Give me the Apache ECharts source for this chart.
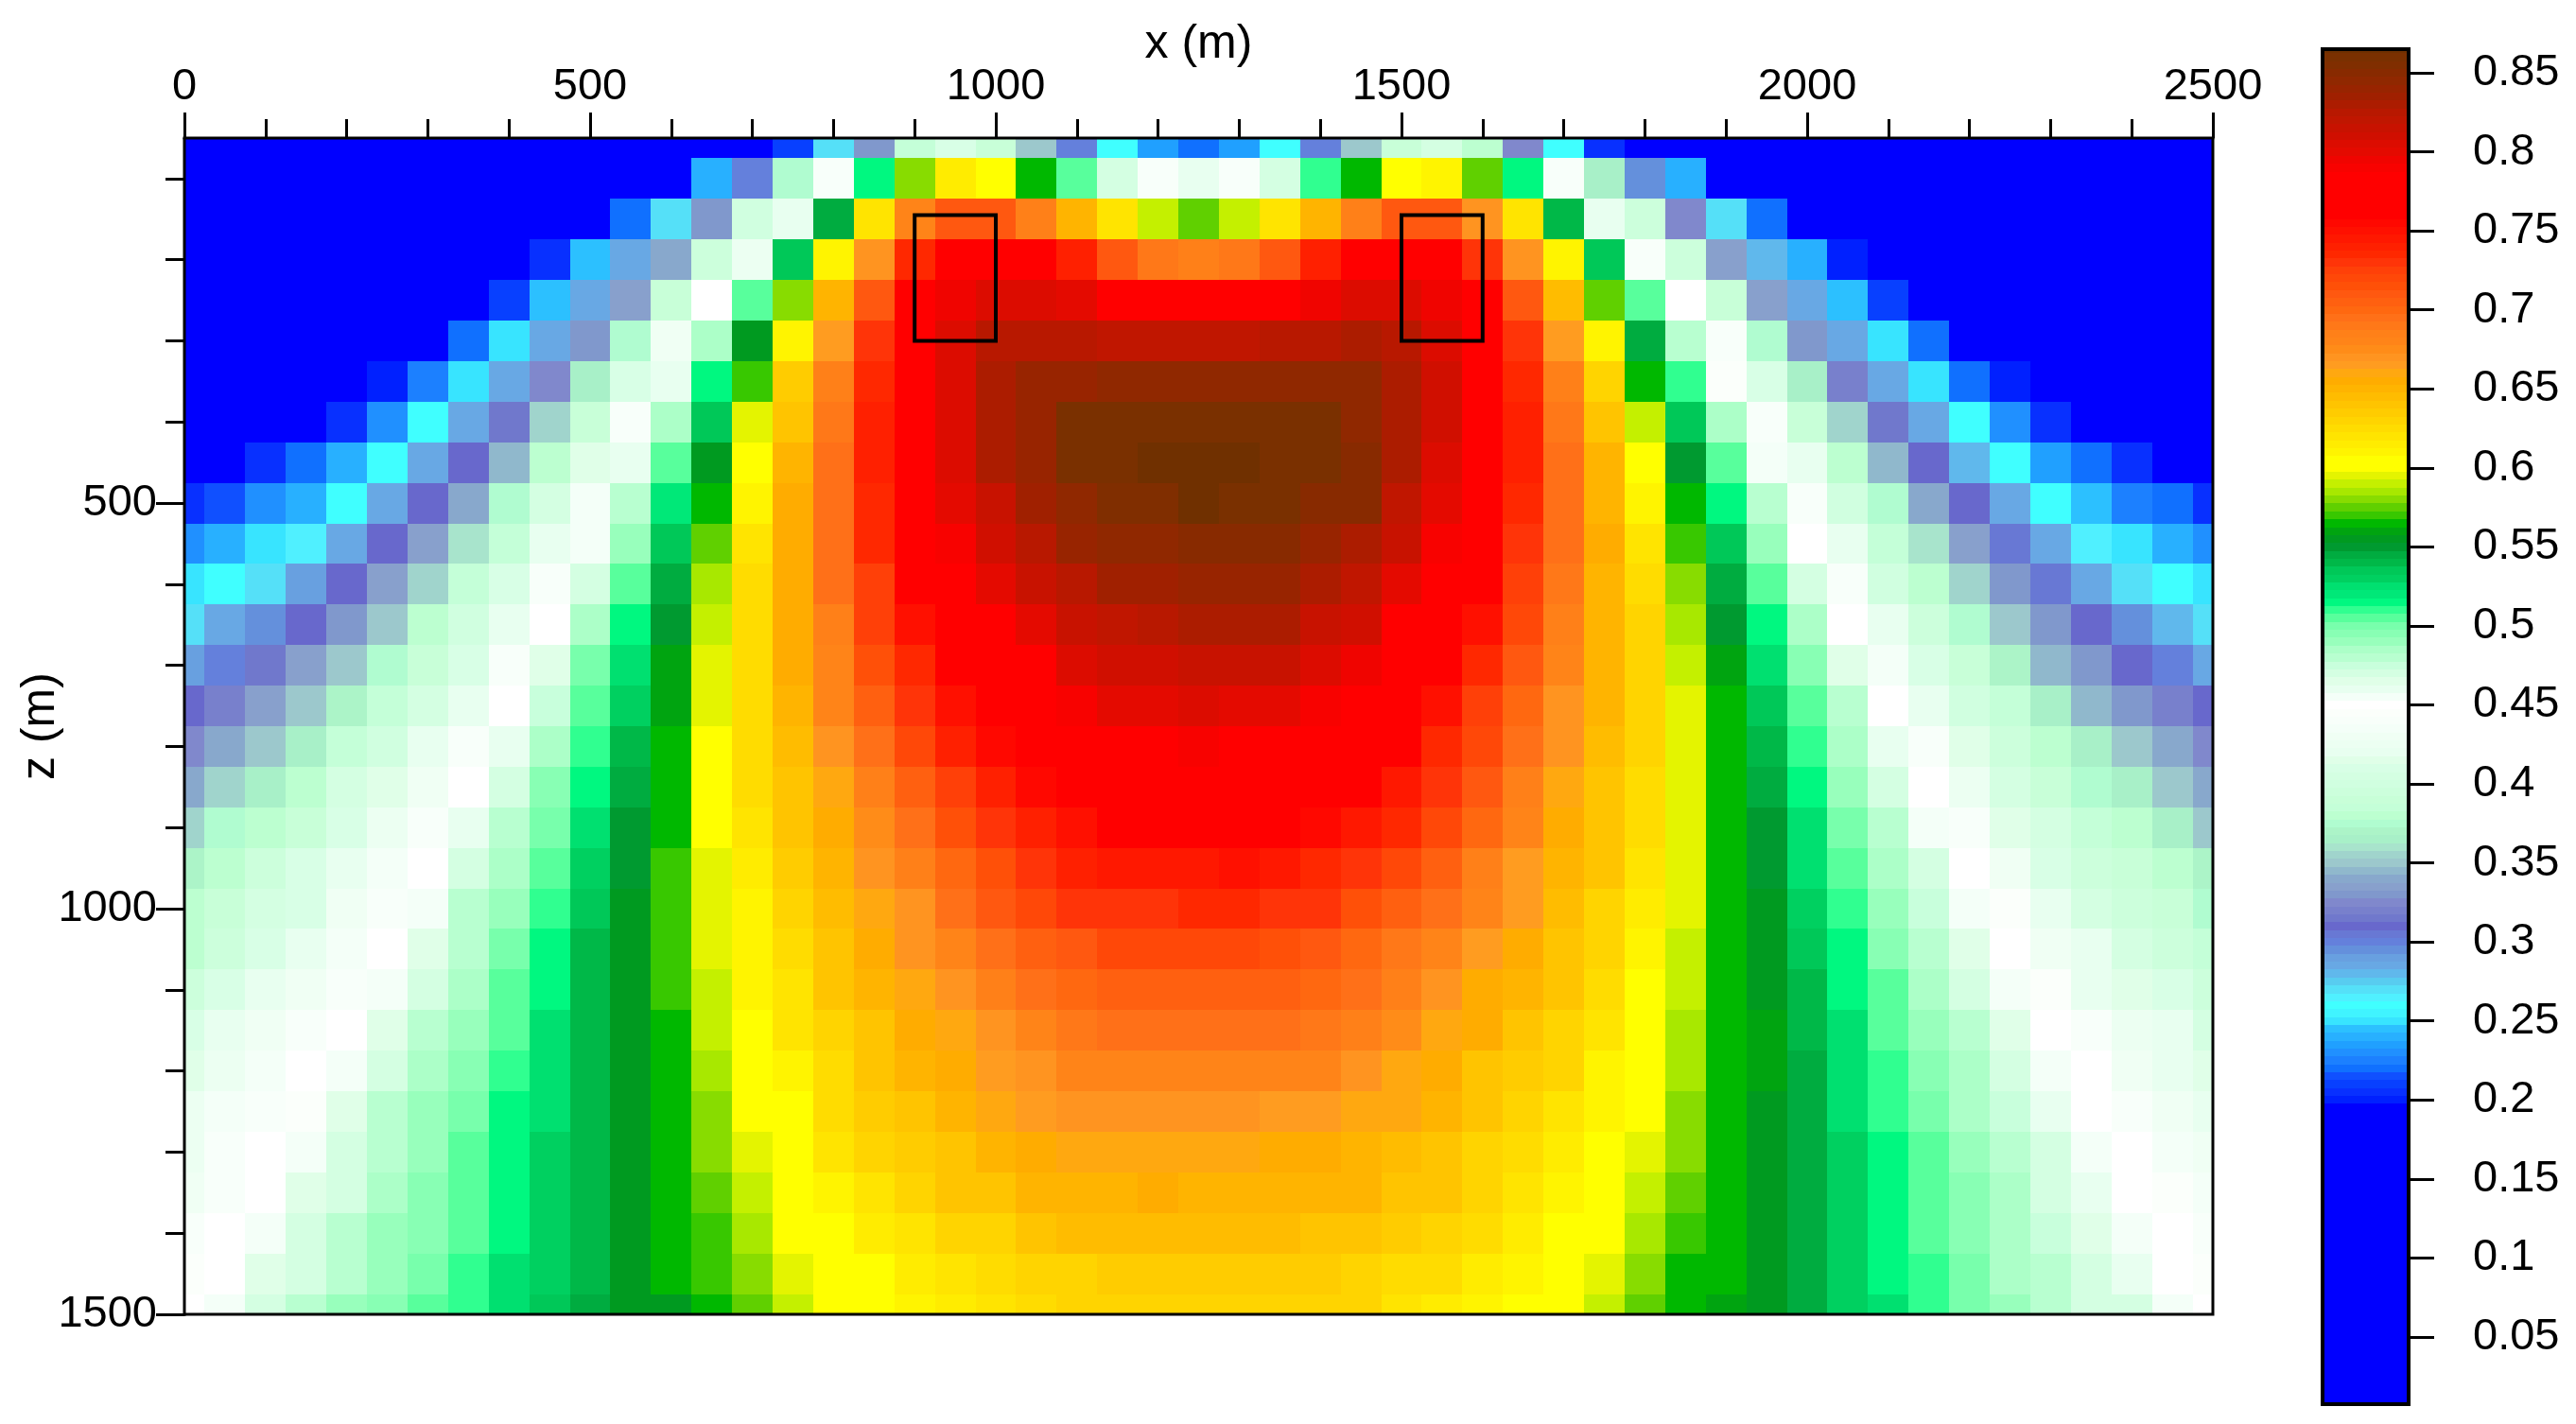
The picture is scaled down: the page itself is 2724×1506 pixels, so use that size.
<!DOCTYPE html>
<html>
<head>
<meta charset="utf-8">
<script src="https://cdn.jsdelivr.net/npm/echarts@6/dist/echarts.min.js"></script>
<style>
html, body { margin: 0; padding: 0; background: #fff; }
#chart { width: 2724px; height: 1506px; }
</style>
</head>
<body>
<div id="chart"></div>
<script>
// node positions of the model (m), one cell per node
var xNodes = [0,50,100,150,200,250,300,350,400,450,500,550,600,650,700,750,800,850,900,950,1000,1050,1100,1150,1200,1250,1300,1350,1400,1450,1500,1550,1600,1650,1700,1750,1800,1850,1900,1950,2000,2050,2100,2150,2200,2250,2300,2350,2400,2450,2500];
var zNodes = [50,100,150,200,250,300,350,400,450,500,550,600,650,700,750,800,850,900,950,1000,1050,1100,1150,1200,1250,1300,1350,1400,1450,1500];
var cellSize = 50;

// values, one row per depth
var rows = [
[.1,.1,.1,.1,.1,.1,.1,.1,.1,.1,.1,.1,.1,.1,.1,.208,.268,.33,.385,.41,.39,.352,.298,.26,.235,.22,.235,.26,.30,.352,.39,.405,.38,.325,.262,.205,.1,.1,.1,.1,.1,.1,.1,.1,.1,.1,.1,.1,.1,.1,.1],
[.1,.1,.1,.1,.1,.1,.1,.1,.1,.1,.1,.1,.1,.24,.298,.375,.44,.515,.58,.615,.605,.565,.505,.468,.44,.42,.44,.468,.512,.567,.603,.61,.575,.513,.44,.365,.295,.24,.1,.1,.1,.1,.1,.1,.1,.1,.1,.1,.1,.1,.1],
[.1,.1,.1,.1,.1,.1,.1,.1,.1,.1,.1,.22,.268,.33,.40,.42,.543,.622,.678,.708,.708,.685,.65,.62,.59,.575,.59,.62,.65,.685,.708,.708,.672,.622,.54,.46,.395,.325,.268,.22,.1,.1,.1,.1,.1,.1,.1,.1,.1,.1,.1],
[.1,.1,.1,.1,.1,.1,.1,.1,.1,.205,.243,.285,.338,.395,.425,.534,.612,.668,.735,.77,.77,.77,.74,.71,.69,.683,.69,.712,.74,.77,.77,.77,.73,.668,.612,.535,.44,.395,.335,.28,.24,.202,.1,.1,.1,.1,.1,.1,.1,.1,.1],
[.1,.1,.1,.1,.1,.1,.1,.1,.208,.247,.286,.335,.39,.45,.507,.58,.648,.708,.76,.795,.807,.805,.80,.785,.78,.78,.78,.78,.795,.805,.805,.795,.77,.708,.645,.575,.505,.45,.39,.335,.287,.247,.208,.1,.1,.1,.1,.1,.1,.1,.1],
[.1,.1,.1,.1,.1,.1,.1,.218,.25,.286,.33,.376,.43,.485,.555,.61,.664,.728,.77,.807,.825,.826,.825,.82,.82,.82,.82,.825,.825,.828,.825,.807,.77,.728,.664,.61,.545,.48,.44,.376,.33,.287,.25,.218,.1,.1,.1,.1,.1,.1,.1],
[.1,.1,.1,.1,.1,.2,.226,.25,.283,.325,.365,.41,.46,.515,.572,.635,.685,.735,.77,.807,.828,.84,.842,.845,.845,.845,.845,.845,.845,.845,.83,.81,.77,.735,.685,.63,.565,.51,.445,.412,.365,.322,.283,.25,.222,.2,.1,.1,.1,.1,.1],
[.1,.1,.1,.1,.206,.23,.258,.283,.315,.355,.39,.44,.485,.537,.595,.642,.69,.74,.77,.807,.828,.842,.86,.86,.86,.86,.86,.86,.86,.845,.83,.81,.77,.74,.69,.642,.59,.537,.485,.44,.39,.355,.315,.283,.258,.23,.206,.1,.1,.1,.1],
[.1,.1,.205,.218,.238,.26,.283,.31,.345,.38,.417,.46,.507,.555,.605,.648,.695,.74,.77,.805,.828,.842,.86,.86,.865,.865,.865,.86,.86,.85,.828,.805,.77,.74,.695,.648,.605,.55,.503,.455,.42,.378,.345,.31,.28,.258,.235,.218,.203,.1,.1],
[.205,.217,.23,.242,.262,.283,.31,.34,.375,.405,.435,.48,.52,.567,.612,.655,.695,.735,.77,.80,.815,.835,.845,.855,.855,.865,.86,.86,.85,.85,.82,.802,.77,.735,.695,.652,.612,.567,.515,.48,.44,.40,.375,.34,.31,.283,.262,.243,.226,.218,.206],
[.23,.24,.25,.265,.287,.31,.335,.36,.385,.42,.435,.492,.534,.575,.62,.655,.695,.735,.775,.79,.81,.825,.84,.845,.845,.85,.85,.85,.84,.83,.815,.79,.77,.732,.695,.655,.622,.572,.534,.492,.45,.418,.385,.36,.335,.305,.283,.265,.25,.24,.228],
[.252,.262,.272,.29,.31,.335,.354,.385,.412,.44,.47,.505,.545,.585,.625,.655,.695,.725,.77,.78,.80,.815,.827,.835,.835,.84,.84,.84,.83,.82,.80,.78,.77,.725,.688,.652,.625,.58,.545,.503,.472,.44,.40,.378,.355,.33,.305,.287,.272,.262,.252],
[.268,.283,.295,.31,.328,.352,.378,.40,.422,.45,.485,.515,.55,.59,.625,.655,.683,.725,.75,.77,.775,.80,.815,.822,.827,.83,.83,.83,.817,.81,.775,.77,.75,.718,.685,.652,.628,.585,.55,.513,.485,.45,.42,.395,.376,.352,.33,.31,.293,.28,.268],
[.29,.30,.315,.337,.35,.375,.39,.412,.44,.465,.498,.524,.558,.595,.625,.655,.68,.715,.735,.76,.77,.785,.805,.81,.81,.815,.815,.815,.805,.795,.775,.765,.735,.71,.68,.652,.628,.59,.558,.527,.495,.465,.435,.412,.39,.368,.345,.33,.31,.30,.287],
[.31,.322,.337,.352,.368,.385,.405,.422,.45,.475,.503,.53,.56,.595,.625,.65,.68,.705,.73,.75,.76,.77,.79,.80,.80,.805,.80,.80,.79,.785,.775,.75,.725,.70,.67,.65,.628,.595,.565,.533,.503,.478,.45,.42,.40,.385,.365,.345,.332,.32,.31],
[.325,.34,.352,.365,.385,.40,.42,.44,.46,.485,.51,.54,.567,.605,.625,.645,.668,.695,.72,.74,.755,.765,.77,.78,.785,.79,.775,.775,.77,.77,.765,.735,.718,.695,.668,.645,.628,.595,.563,.54,.51,.485,.462,.44,.415,.395,.38,.365,.35,.34,.325],
[.342,.354,.365,.378,.405,.415,.43,.45,.472,.495,.515,.545,.565,.605,.625,.64,.66,.685,.705,.725,.74,.755,.76,.77,.77,.775,.77,.77,.765,.76,.745,.728,.708,.685,.66,.642,.625,.595,.565,.545,.517,.492,.472,.45,.425,.405,.39,.376,.365,.352,.34],
[.355,.375,.38,.39,.412,.425,.44,.46,.48,.50,.525,.552,.565,.605,.62,.638,.655,.675,.695,.715,.728,.74,.75,.76,.76,.765,.765,.76,.755,.745,.733,.72,.70,.678,.655,.642,.625,.595,.565,.55,.525,.50,.48,.455,.44,.415,.405,.385,.38,.365,.352],
[.372,.38,.395,.41,.42,.435,.45,.468,.485,.507,.528,.55,.572,.595,.615,.635,.65,.668,.685,.70,.715,.728,.74,.745,.745,.745,.748,.745,.735,.73,.72,.705,.685,.667,.652,.638,.622,.595,.565,.55,.527,.507,.485,.468,.45,.43,.412,.395,.388,.38,.37],
[.378,.39,.405,.412,.43,.44,.455,.478,.492,.51,.535,.555,.572,.595,.61,.632,.645,.66,.672,.695,.708,.72,.728,.732,.732,.733,.733,.73,.728,.715,.705,.695,.678,.664,.645,.632,.615,.595,.567,.555,.53,.51,.492,.477,.457,.445,.422,.405,.395,.388,.376],
[.38,.395,.412,.418,.435,.45,.465,.482,.50,.517,.538,.557,.572,.595,.612,.625,.642,.655,.668,.68,.695,.705,.71,.718,.718,.718,.718,.716,.708,.70,.69,.678,.667,.655,.642,.63,.612,.59,.565,.555,.534,.514,.497,.482,.463,.45,.43,.418,.405,.395,.385],
[.395,.41,.42,.43,.44,.455,.472,.487,.503,.517,.538,.557,.572,.59,.608,.62,.638,.648,.66,.672,.685,.695,.70,.705,.705,.707,.705,.705,.70,.695,.685,.67,.655,.648,.638,.625,.605,.59,.565,.557,.54,.517,.503,.487,.468,.455,.445,.422,.415,.41,.395],
[.41,.42,.43,.44,.45,.465,.48,.492,.507,.523,.54,.557,.565,.59,.605,.618,.632,.642,.655,.662,.672,.68,.688,.695,.695,.695,.695,.695,.688,.685,.673,.662,.655,.642,.632,.622,.605,.585,.565,.558,.54,.525,.507,.492,.48,.465,.45,.44,.425,.418,.405],
[.415,.425,.435,.448,.457,.472,.485,.497,.51,.527,.54,.557,.565,.585,.603,.612,.625,.638,.648,.656,.663,.668,.678,.68,.68,.68,.68,.68,.68,.672,.66,.655,.642,.635,.628,.612,.605,.585,.565,.558,.543,.527,.51,.495,.483,.468,.457,.45,.43,.422,.415],
[.425,.435,.44,.445,.465,.478,.488,.50,.513,.527,.54,.557,.565,.58,.603,.606,.625,.635,.642,.65,.658,.665,.668,.672,.672,.672,.668,.665,.665,.66,.658,.65,.642,.63,.622,.61,.605,.58,.565,.555,.543,.527,.51,.50,.485,.477,.46,.45,.44,.43,.422],
[.425,.44,.45,.457,.468,.48,.492,.503,.513,.53,.54,.557,.565,.58,.595,.605,.622,.628,.635,.642,.652,.656,.658,.66,.662,.662,.66,.655,.655,.652,.645,.642,.632,.625,.617,.605,.595,.58,.567,.555,.543,.53,.513,.503,.49,.48,.468,.455,.45,.437,.428],
[.43,.44,.448,.465,.472,.485,.495,.507,.517,.53,.54,.557,.567,.575,.59,.603,.612,.622,.63,.638,.642,.648,.65,.652,.654,.652,.65,.65,.65,.648,.642,.638,.63,.622,.612,.605,.59,.575,.565,.555,.543,.53,.517,.503,.495,.485,.472,.46,.45,.445,.435],
[.44,.45,.455,.468,.48,.488,.497,.507,.517,.53,.54,.553,.563,.572,.585,.603,.605,.615,.622,.628,.632,.638,.643,.645,.645,.645,.644,.643,.642,.64,.635,.632,.625,.617,.605,.603,.585,.572,.563,.553,.545,.53,.517,.507,.497,.487,.477,.465,.455,.45,.44],
[.445,.45,.465,.472,.482,.488,.50,.51,.523,.53,.54,.553,.563,.572,.58,.595,.605,.607,.615,.618,.625,.63,.632,.635,.635,.635,.635,.635,.635,.632,.625,.625,.617,.608,.605,.595,.58,.565,.563,.553,.545,.53,.517,.51,.50,.487,.478,.468,.458,.45,.447],
[.45,.455,.472,.478,.488,.497,.503,.51,.523,.534,.545,.553,.557,.565,.575,.59,.603,.605,.61,.617,.62,.625,.628,.63,.63,.632,.632,.63,.63,.628,.62,.615,.61,.605,.603,.59,.575,.565,.56,.553,.545,.53,.525,.51,.50,.492,.48,.472,.468,.455,.45]
];

// the two black boxes drawn on the model
var boxX0 = [900, 1500];
var boxX1 = [1000, 1600];
var boxZ0 = [145, 145];
var boxZ1 = [300, 300];

// colour scale, bands of 0.005 from 0.2 up, plain blue below
var barMin = 0.0075;
var barMax = 0.865;
var blueTop = 0.1975;
var bandStep = 0.005;
var bandColors = [
  '#0020ff','#0830ff','#0840ff','#1050ff','#1070ff','#1c80ff','#2090ff','#20a0ff','#28b0ff','#2cc0ff',
  '#38e4ff','#40f4ff','#40ffff','#50f0ff','#55e0f8','#58ccf0','#60b8ec','#68a8e4','#68a0e0','#6490dc',
  '#6480dc','#6878d4','#6868cc','#7078cc','#7880cc','#8088cc','#8098cc','#88a0cc','#88a8cc','#90b8cc',
  '#9cc8cc','#a0d4cc','#a8e4cc','#a8f0c8','#acf4c8','#b0fcd0','#bcffd0','#c4ffd8','#c8ffd8','#ccffdc',
  '#d0ffe0','#d4ffe2','#d8ffe6','#e0ffe8','#e8fff0','#ecfff2','#f0fff4','#f4fff8','#f8fffa','#fbfffb',
  '#ffffff','#f4fff8','#e8fff0','#e0ffe8','#d4ffe2','#c8ffdc','#b8ffd0','#acffc8','#98ffbc','#88ffb4',
  '#78ffac','#58ff9c','#30ff90','#00f880','#00e878','#00e070','#00d060','#00c858','#00b848','#00ac40',
  '#009a30','#009a20','#00a410','#00b800','#38c800','#60d000','#88dc00','#a8e800','#c4f000','#e4f400',
  '#ffff00','#ffff00','#fff400','#ffec00','#ffe400','#ffdc00','#ffd400','#ffcc00','#ffc400','#ffbc00',
  '#ffb400','#ffac00','#ffa810','#ff9c20','#ff9420','#ff8c18','#ff8418','#ff8018','#ff7818','#ff7018',
  '#ff6810','#ff6010','#ff5810','#ff5008','#ff4808','#ff4008','#ff3408','#ff2800','#ff2000','#ff1800',
  '#ff1000','#ff0800','#ff0000','#ff0000','#ff0000','#ff0000','#ff0000','#ff0000','#f80200','#f00400',
  '#e40a00','#dc0c00','#d00f00','#c81200','#c01600','#b81800','#ac1c00','#a02000','#982400','#902800',
  '#882a00','#802e00','#7a3000','#703000'
];

// tick labels
var xMajor = 500;
var xMinorPerMajor = 5;
var zMajorTicks = [500, 1000, 1500];
var zMinorTicks = [100, 200, 300, 400, 600, 700, 800, 900, 1100, 1200, 1300, 1400];
var barTicks = [0.05, 0.1, 0.15, 0.2, 0.25, 0.3, 0.35, 0.4, 0.45, 0.5, 0.55, 0.6, 0.65, 0.7, 0.75, 0.8, 0.85];

var font = '"Liberation Sans", Arial, sans-serif';
var labelSize = 47;

var cells = [];
rows.forEach(function (row, r) {
    row.forEach(function (v, c) {
        cells.push([xNodes[c], zNodes[r], v]);
    });
});

var boxes = boxX0.map(function (x0, i) {
    return [x0, boxZ0[i], boxX1[i], boxZ1[i]];
});

// bands as [low, high, color]
var bands = [[barMin, blueTop, '#0000ff']];
bandColors.forEach(function (color, i) {
    bands.push([blueTop + i * bandStep, blueTop + (i + 1) * bandStep, color]);
});
var pieces = bands.map(function (b) {
    return { gte: b[0], lt: b[1], color: b[2] };
});

function pixelRect(p0, p1, params) {
    return echarts.graphic.clipRectByRect({
        x: Math.round(Math.min(p0[0], p1[0])),
        y: Math.round(Math.min(p0[1], p1[1])),
        width: Math.round(Math.max(p0[0], p1[0])) - Math.round(Math.min(p0[0], p1[0])),
        height: Math.round(Math.max(p0[1], p1[1])) - Math.round(Math.min(p0[1], p1[1]))
    }, params.coordSys);
}

function renderCell(params, api) {
    var x = api.value(0), z = api.value(1), half = cellSize / 2;
    var shape = pixelRect(api.coord([x - half, z - half]), api.coord([x + half, z + half]), params);
    return shape && { type: 'rect', shape: shape, style: { fill: api.visual('color') } };
}

function renderBox(params, api) {
    var p0 = api.coord([api.value(0), api.value(1)]);
    var p1 = api.coord([api.value(2), api.value(3)]);
    return {
        type: 'rect',
        shape: { x: p0[0], y: p0[1], width: p1[0] - p0[0], height: p1[1] - p0[1] },
        style: { fill: 'none', stroke: '#000', lineWidth: 4 }
    };
}

function renderBand(params, api) {
    var shape = pixelRect(api.coord([0, api.value(0)]), api.coord([1, api.value(1)]), params);
    return shape && { type: 'rect', shape: shape, style: { fill: bands[params.dataIndex][2] } };
}

function plainNumber(v) {
    return String(v);
}

var axisLine = { show: true, onZero: false, lineStyle: { color: '#000', width: 3 } };
var labelStyle = { color: '#000', fontFamily: font, fontSize: labelSize };
var nameStyle = { color: '#000', fontFamily: font, fontSize: 50 };
var tickLine = { color: '#000', width: 3 };

var option = {
    animation: false,
    backgroundColor: '#fff',
    grid: [
        { left: 195, top: 146, width: 2145, height: 1244, outerBoundsMode: 'none', show: true, z: 5, backgroundColor: 'transparent', borderColor: '#000', borderWidth: 3 },
        { left: 2456, top: 52, width: 91, height: 1433, outerBoundsMode: 'none', show: true, z: 5, backgroundColor: 'transparent', borderColor: '#000', borderWidth: 4 }
    ],
    xAxis: [
        {
            type: 'value', gridIndex: 0, position: 'top', min: 0, max: 2500, interval: xMajor,
            name: 'x (m)', nameLocation: 'middle', nameGap: 74, nameMoveOverlap: false, nameTextStyle: nameStyle,
            axisLine: axisLine,
            axisTick: { show: true, length: 27, lineStyle: tickLine },
            minorTick: { show: true, splitNumber: xMinorPerMajor, length: 20, lineStyle: tickLine },
            axisLabel: Object.assign({ margin: 30, formatter: plainNumber }, labelStyle),
            splitLine: { show: false }
        },
        { type: 'value', gridIndex: 1, min: 0, max: 1, show: false }
    ],
    yAxis: [
        {
            type: 'value', gridIndex: 0, position: 'left', inverse: true, min: 50, max: 1500,
            name: 'z (m)', nameLocation: 'middle', nameGap: 127, nameMoveOverlap: false, nameTextStyle: nameStyle,
            axisLine: axisLine,
            axisTick: { show: true, length: 30, lineStyle: tickLine, customValues: zMajorTicks },
            axisLabel: Object.assign({ margin: 29, customValues: zMajorTicks, formatter: plainNumber }, labelStyle),
            splitLine: { show: false }
        },
        {
            type: 'value', gridIndex: 0, position: 'left', inverse: true, min: 50, max: 1500,
            axisLine: axisLine,
            axisTick: { show: true, length: 20, lineStyle: tickLine, customValues: zMinorTicks },
            axisLabel: { show: false },
            splitLine: { show: false }
        },
        {
            type: 'value', gridIndex: 1, position: 'right', min: barMin, max: barMax,
            axisLine: axisLine,
            axisTick: { show: true, length: 27, lineStyle: tickLine, customValues: barTicks },
            axisLabel: Object.assign({
                margin: 68,
                customValues: barTicks,
                formatter: function (v) { return String(Math.round(v * 100) / 100); }
            }, labelStyle),
            splitLine: { show: false }
        }
    ],
    visualMap: {
        show: false,
        type: 'piecewise',
        seriesIndex: 0,
        dimension: 2,
        pieces: pieces
    },
    series: [
        {
            type: 'custom', name: 'model', xAxisIndex: 0, yAxisIndex: 0, z: 2,
            data: cells, encode: { x: 0, y: 1 }, renderItem: renderCell, silent: true
        },
        {
            type: 'custom', name: 'boxes', xAxisIndex: 0, yAxisIndex: 0, z: 3,
            data: boxes, encode: { x: [0, 2], y: [1, 3] }, renderItem: renderBox, silent: true
        },
        {
            type: 'custom', name: 'colorbar', xAxisIndex: 1, yAxisIndex: 2, z: 2,
            data: bands.map(function (b) { return [b[0], b[1]]; }),
            encode: { y: [0, 1] }, renderItem: renderBand, silent: true
        }
    ]
};

var chart = echarts.init(document.getElementById('chart'));
chart.setOption(option);
</script>
</body>
</html>
